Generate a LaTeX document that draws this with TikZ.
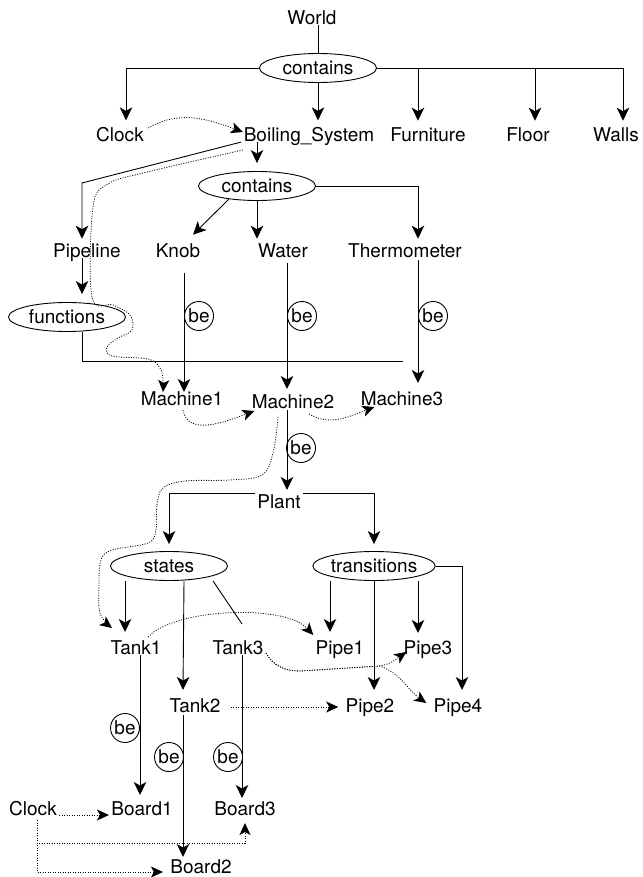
\documentclass[tikz,border=0pt]{standalone}
\usepackage{fontspec}
\setmainfont{TeX Gyre Heros}
\usetikzlibrary{shapes.geometric,arrows.meta}
\newcommand\lblfont{\fontsize{19}{23}\selectfont}

\begin{document}
\begin{tikzpicture}[x=1pt,y=-1pt,line width=0.9pt,
  lbl/.style={font=\lblfont, inner xsep=2pt, inner ysep=5pt, anchor=base},
  oval/.style={ellipse, draw, minimum width=117pt, minimum height=29pt, inner sep=0pt, font=\lblfont},
  bec/.style={circle, draw, minimum size=29pt, inner sep=0pt, font=\lblfont},
  arr/.style={-{Stealth[length=13pt,width=12.5pt,inset=3.5pt]}},
  darr/.style={dash pattern=on 1pt off 1.5pt, line width=0.8pt,
               -{Stealth[length=12pt,width=11pt,inset=3pt]}}]
\useasboundingbox (0,0) rectangle (642,877);

% ---- top level: the world and its contents
\node[lbl] (World) at (312,25) {World};
\node[oval] (c1) at (318,68) {contains};
\node[lbl] (Clock) at (120,142) {Clock};
\node[lbl] (Bs) at (309,142) {Boiling\_System};
\node[lbl] (Furn) at (428,142) {Furniture};
\node[lbl] (Floor) at (528,142) {Floor};
\node[lbl] (Walls) at (616,142) {Walls};

% ---- boiling system
\node[oval] (c2) at (257,186) {contains};
\node[lbl] (Pipeline) at (87,258) {Pipeline};
\node[lbl] (Knob) at (178,258) {Knob};
\node[lbl] (Water) at (283,258) {Water};
\node[lbl] (Thermo) at (405,258) {Thermometer};
\node[oval] (func) at (67,317) {functions};

% ---- machines
\node[lbl] (M1) at (182,405) {Machine1};
\node[lbl] (M2) at (293,408) {Machine2};
\node[lbl] (M3) at (402,405) {Machine3};

% ---- plant
\node[lbl] (Plant) at (279,508) {Plant};
\node[oval] (states) at (169,566) {states};
\node[oval] (trans) at (374,566) {transitions};
\node[lbl] (Tank1) at (136,654) {Tank1};
\node[lbl] (Tank3) at (238,654) {Tank3};
\node[lbl] (Pipe1) at (340,654) {Pipe1};
\node[lbl] (Pipe3) at (428,654) {Pipe3};
\node[lbl] (Tank2) at (195,712) {Tank2};
\node[lbl] (Pipe2) at (370,712) {Pipe2};
\node[lbl] (Pipe4) at (458,712) {Pipe4};

% ---- boards
\node[lbl] (Clock2) at (33,815) {Clock};
\node[lbl] (Board1) at (142,815) {Board1};
\node[lbl] (Board3) at (245,815) {Board3};
\node[lbl] (Board2) at (201,873) {Board2};

% ---- "be" markers
\node[bec] (be1) at (199,316) {be};
\node[bec] (be2) at (302,316) {be};
\node[bec] (be3) at (433,316) {be};
\node[bec] (be4) at (301,448) {be};
\node[bec] (be5) at (125,728) {be};
\node[bec] (be6) at (169,757) {be};
\node[bec] (be7) at (228,757) {be};

\coordinate (pbend) at (82,183);
\coordinate (fend) at (403,361);
\coordinate (split) at (380,666);

% ---- solid connectors
\draw (c1.north) -- (c1.north |- World.base);
\draw[arr] (c1.west) -| ([xshift=6pt,yshift=2pt]Clock.north);
\draw[arr] (c1.south) -- ([yshift=2pt]c1.south |- Bs.north);
\draw[arr] (c1.east) -| ([xshift=-10pt,yshift=2pt]Furn.north);
\draw[arr] (c1.east) -| ([xshift=7pt,yshift=2pt]Floor.north);
\draw[arr] (c1.east) -| ([xshift=7pt,yshift=2pt]Walls.north);

\draw[arr, shorten >=8pt] (c2.north |- Bs.base) -- (c2.north);
\draw[arr] (Bs.base west) -- (pbend) -- (pbend |- Pipeline.north);
\draw[arr] (c2.205) -- ([xshift=15pt,yshift=4pt]Knob.north);
\draw[arr] (c2.south) -- (c2.south |- Water.north);
\draw[arr] (c2.east) -| ([xshift=13pt]Thermo.north);

\draw[arr, shorten >=8pt] (pbend |- Pipeline.base) -- (pbend |- func.north);
\draw (func.south -| pbend) -- (pbend |- fend) -- (fend);

\draw[arr] ([xshift=6pt,yshift=-15pt]Knob.base) -- ([xshift=2pt,yshift=13pt]M1.base);
\draw[arr] ([xshift=4pt,yshift=-5pt]Water.base) -- ([xshift=-6pt,yshift=19pt]M2.base);
\draw[arr] ([xshift=13pt,yshift=-2pt]Thermo.base) -- ([xshift=16pt,yshift=22pt]M3.base);
\draw[arr] ([xshift=-6pt,yshift=-2pt]M2.base) -- ([xshift=8pt,yshift=18pt]Plant.base);

\draw[arr] ([yshift=15pt]Plant.base west) -| ([yshift=7pt]states.north);
\draw[arr] ([yshift=15pt]Plant.base east) -| ([yshift=7pt]trans.north);

\draw[arr] ([xshift=-44pt]states.south) -- ([xshift=-11pt,yshift=22pt]Tank1.base);
\draw[arr] ([xshift=15pt]states.south) -- ([xshift=-12pt,yshift=22pt]Tank2.base);
\draw ([xshift=44pt]states.south) -- ([xshift=4pt,yshift=30pt]Tank3.base);
\draw[arr] ([xshift=-44pt]trans.south) -- ([xshift=-10pt,yshift=22pt]Pipe1.base);
\draw[arr] (trans.south) -- ([xshift=4pt,yshift=22pt]Pipe2.base);
\draw[arr] ([xshift=44pt]trans.south) -- ([xshift=-10pt,yshift=21pt]Pipe3.base);
\draw[arr] (trans.east) -| ([xshift=4pt,yshift=22pt]Pipe4.base);

\draw[arr] ([xshift=4pt,yshift=-1pt]Tank1.base) -- ([xshift=-2pt,yshift=20pt]Board1.base);
\draw[arr] ([xshift=-12pt,yshift=-3pt]Tank2.base) -- ([xshift=-18pt,yshift=16pt]Board2.base);
\draw[arr] ([xshift=4pt,yshift=-1pt]Tank3.base) -- ([xshift=-3pt,yshift=17pt]Board3.base);

% ---- dotted connectors
\draw[darr] ([xshift=2pt,yshift=14pt]Clock.base east) to[out=30,in=160] ([xshift=1.5pt,yshift=10pt]Bs.base west);
\draw[darr] plot[smooth, tension=0.6] coordinates {([xshift=1.5pt,yshift=-8pt]Bs.base west) (143,173) (108,184) (93,207) (92,297) (113,305) (130,315) (132,330) (118,338) (107,347) (112,356) (148,359) (160,368) (163,380) ([xshift=-19pt,yshift=13pt]M1.base)};
\draw[darr] ([xshift=1pt,yshift=-5pt]M1.base) to[out=-80,in=200] ([xshift=5pt,yshift=-3pt]M2.base west);
\draw[darr] ([xshift=16pt,yshift=-6pt]M2.base) to[out=-30,in=200] ([xshift=16pt,yshift=-2pt]M3.base west);
\draw[darr] plot[smooth, tension=0.6] coordinates {([xshift=-15pt,yshift=-9pt]M2.base) (273,453) (262,475) (230,480) (185,481) (163,488) (157,505) (156,530) (148,543) (112,550) (101,560) (99,583) (100,613) ([xshift=-24pt,yshift=26pt]Tank1.base)};
\draw[darr] ([xshift=12pt,yshift=17pt]Tank1.base) .. controls (175,608) and (285,604) .. ([yshift=19pt]Pipe1.base west);
\draw[darr] ([yshift=1pt]Tank3.base east) to[out=-60,in=180] (300,671) -- (split) to[out=10,in=215] ([xshift=5pt,yshift=2pt]Pipe3.base west);
\draw[darr] ([yshift=1pt]Tank3.base east) to[out=-60,in=180] (300,671) -- (split) to[out=-20,in=145] ([xshift=-5pt,yshift=9pt]Pipe4.base west);
\draw[darr] ([xshift=8pt,yshift=5pt]Tank2.base east) -- ([xshift=-5pt,yshift=5pt]Pipe2.base west);
\draw[darr] (Clock2.base east) -- (Board1.base west);
\draw[darr] ([xshift=4pt,yshift=-5pt]Clock2.base) |- ([yshift=-28pt]Board3.base) -- ([yshift=-8pt]Board3.base);
\draw[darr] ([xshift=4pt,yshift=-5pt]Clock2.base) |- ([xshift=-5pt,yshift=1pt]Board2.base west);
\end{tikzpicture}
\end{document}
